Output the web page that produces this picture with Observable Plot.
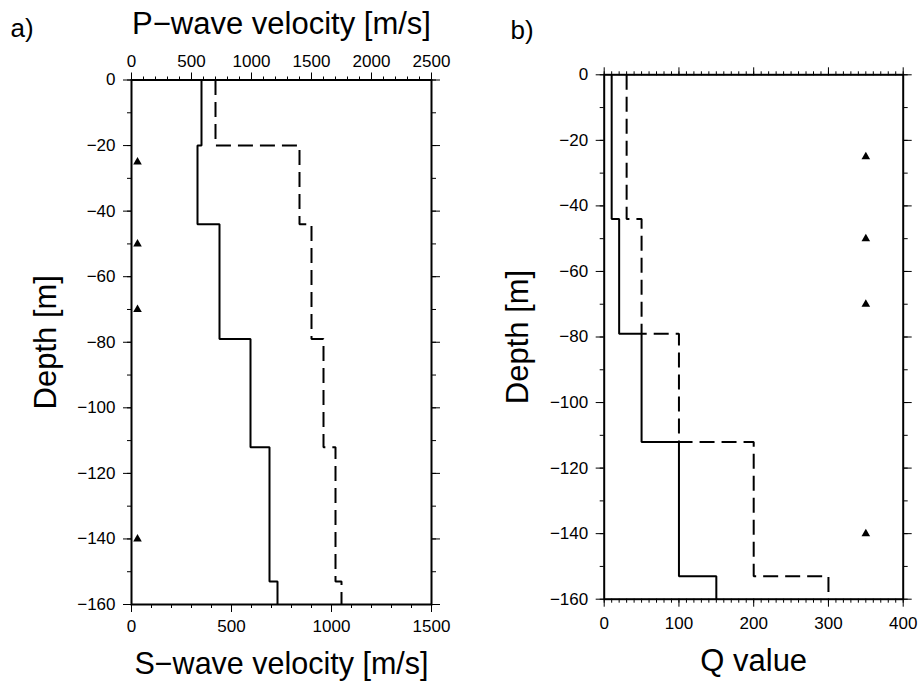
<!DOCTYPE html>
<html>
<head>
<meta charset="utf-8">
<script src="https://cdn.jsdelivr.net/npm/d3@7"></script>
<script src="https://cdn.jsdelivr.net/npm/@observablehq/plot@0.6"></script>
<style>
  html, body { margin: 0; padding: 0; background: white; }
  #wrap { display: flex; width: 918px; height: 681px; }
  .panel { position: relative; width: 459px; height: 681px; }
  .panel svg { position: absolute; left: 0; top: 0; }
</style>
</head>
<body>
<div id="wrap">
  <div class="panel" id="pa"></div>
  <div class="panel" id="pb"></div>
</div>
<script>
// ---- data ----
const depthA = [0, -20, -44, -79, -112, -153, -160];   // layer boundaries, panel a
const vs = [350, 330, 440, 595, 690, 730];               // S-wave velocity [m/s]
const vp = [700, 1400, 1500, 1600, 1700, 1750];          // P-wave velocity [m/s]
const depthB = [0, -44, -79, -112, -153, -160];          // layer boundaries, panel b
const qs = [10, 20, 50, 100, 150];                       // Q (solid)
const qp = [30, 50, 100, 200, 300];                      // Q (dashed)
const stationDepths = [-25, -50, -70, -140];
const stationVs = 30;
const stationQ = 350;
const depthTicks = [0, -20, -40, -60, -80, -100, -120, -140, -160];
const depthMinor = d3.range(0, -161, -10);
const sTicks = [0, 500, 1000, 1500];
const sMinor = d3.range(0, 1501, 100);
const pTicks = [0, 500, 1000, 1500, 2000, 2500];
const pMinor = d3.range(0, 2501, 100);
const qTicks = [0, 100, 200, 300, 400];
const qMinor = d3.range(0, 401, 10);

// ---- helpers ----
function profile(bounds, values) {
  const pts = [];
  values.forEach((v, i) => { pts.push({x: v, y: bounds[i]}); pts.push({x: v, y: bounds[i + 1]}); });
  return pts;
}
const fmt = d => (d < 0 ? "\u2212" + (-d) : String(d));
const blank = () => "";
const FONT = "'Liberation Sans', Arial, Helvetica, sans-serif";
const lineStyle = {stroke: "black", strokeWidth: 2, strokeLinejoin: "miter", strokeLinecap: "butt"};

function layer(margins, xOpts, yOpts, marks) {
  return Plot.plot({
    width: 459, height: 681, ...margins,
    style: {fontFamily: FONT, fontSize: "17px", background: "transparent", color: "black", overflow: "visible"},
    x: {label: null, ...xOpts},
    y: {domain: [-160, 0], label: null, ...yOpts},
    marks
  });
}

// ---- panel a ----
const mA = {marginTop: 79.5, marginBottom: 77, marginLeft: 131, marginRight: 28};
const sX = {domain: [0, 1500]};
const pX = {domain: [0, 2500]};
const pa = document.getElementById("pa");
pa.append(
  // minor ticks bottom (S) / left
  layer(mA, {...sX, axis: "bottom", ticks: sMinor, tickSize: 4, tickFormat: blank},
            {axis: "left", ticks: depthMinor, tickSize: 4, tickFormat: blank}, []),
  // minor ticks top (P) / right
  layer(mA, {...pX, axis: "top", ticks: pMinor, tickSize: 4, tickFormat: blank},
            {axis: "right", ticks: depthMinor, tickSize: 4, tickFormat: blank}, []),
  // major ticks right, P axis on top, P-wave profile
  layer(mA, {...pX, axis: "top", ticks: pTicks, tickSize: 8, tickPadding: 5.5, tickFormat: fmt},
            {axis: "right", ticks: depthTicks, tickSize: 8, tickFormat: blank}, [
    Plot.line(profile(depthA, vp), {x: "x", y: "y", ...lineStyle, strokeDasharray: "15,7"}),
    Plot.text(["P\u2212wave velocity [m/s]"], {frameAnchor: "top", text: d => d, dy: -46.5, lineAnchor: "bottom", fontSize: 31, fill: "black"})
  ]),
  // main: S axis bottom, depth axis left
  layer(mA, {...sX, axis: "bottom", ticks: sTicks, tickSize: 8, tickPadding: 7, tickFormat: fmt},
            {axis: "left", ticks: depthTicks, tickSize: 8, tickPadding: 8, tickFormat: fmt}, [
    Plot.line(profile(depthA, vs), {x: "x", y: "y", ...lineStyle}),
    Plot.dot(stationDepths, {x: () => stationVs, y: d => d, symbol: "triangle", r: 3.2, fill: "black", stroke: "none"}),
    Plot.frame({stroke: "black", strokeWidth: 2}),
    Plot.text(["S\u2212wave velocity [m/s]"], {frameAnchor: "bottom", text: d => d, dy: 69.5, lineAnchor: "bottom", fontSize: 30.5, fill: "black"}),
    Plot.text(["Depth [m]"], {frameAnchor: "left", text: d => d, dx: -76, rotate: -90, lineAnchor: "bottom", textAnchor: "middle", fontSize: 31, fill: "black"}),
    Plot.text(["a)"], {frameAnchor: "top-left", text: d => d, dx: -121, dy: -43.5, lineAnchor: "bottom", textAnchor: "start", fontSize: 26, fill: "black"})
  ])
);

// ---- panel b ----
const mB = {marginTop: 74.3, marginBottom: 82.3, marginLeft: 144.7, marginRight: 15.3};
const qX = {domain: [0, 400]};
const pb = document.getElementById("pb");
pb.append(
  layer(mB, {...qX, axis: "bottom", ticks: qMinor, tickSize: 4, tickFormat: blank},
            {axis: "left", ticks: depthMinor, tickSize: 4, tickFormat: blank}, []),
  layer(mB, {...qX, axis: "top", ticks: qMinor, tickSize: 4, tickFormat: blank},
            {axis: "right", ticks: depthMinor, tickSize: 4, tickFormat: blank}, []),
  layer(mB, {...qX, axis: "top", ticks: qTicks, tickSize: 8, tickFormat: blank},
            {axis: "right", ticks: depthTicks, tickSize: 8, tickFormat: blank}, []),
  layer(mB, {...qX, axis: "bottom", ticks: qTicks, tickSize: 8, tickPadding: 10, tickFormat: fmt},
            {axis: "left", ticks: depthTicks, tickSize: 8, tickPadding: 8, tickFormat: fmt}, [
    Plot.line(profile(depthB, qs), {x: "x", y: "y", ...lineStyle}),
    Plot.line(profile(depthB, qp), {x: "x", y: "y", ...lineStyle, strokeDasharray: "15,7"}),
    Plot.dot(stationDepths, {x: () => stationQ, y: d => d, symbol: "triangle", r: 3.2, fill: "black", stroke: "none"}),
    Plot.frame({stroke: "black", strokeWidth: 2}),
    Plot.text(["Q value"], {frameAnchor: "bottom", text: d => d, dy: 71.3, lineAnchor: "bottom", fontSize: 31, fill: "black"}),
    Plot.text(["Depth [m]"], {frameAnchor: "left", text: d => d, dx: -76, rotate: -90, lineAnchor: "bottom", textAnchor: "middle", fontSize: 31, fill: "black"}),
    Plot.text(["b)"], {frameAnchor: "top-left", text: d => d, dx: -93.7, dy: -36.3, lineAnchor: "bottom", textAnchor: "start", fontSize: 26, fill: "black"})
  ])
);
</script>
</body>
</html>
